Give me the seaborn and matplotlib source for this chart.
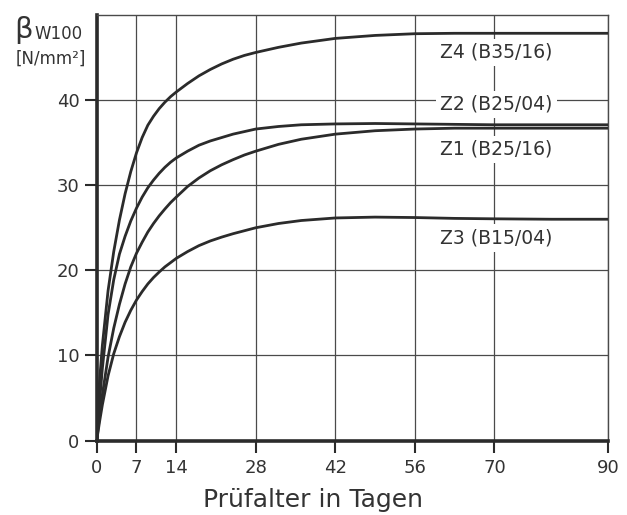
# Strength development of the four concretes Z1-Z4 over test age (reproduction of a scanned chart)

import pandas as pd
import matplotlib.pyplot as plt
import seaborn as sns

# Test age in days and strength values in N/mm2
days = [0, 0.5, 1, 2, 3, 4, 5, 6, 7, 8, 9, 10, 11, 12, 13, 14, 16, 18, 20, 22, 24, 26, 28,
        32, 36, 42, 49, 56, 63, 70, 80, 90]
z4 = [0, 7.0, 11.2, 17.6, 22.2, 25.9, 29.0, 31.6, 33.8, 35.6, 37.05, 38.1, 39.0, 39.75, 40.4, 40.95,
      41.95, 42.85, 43.6, 44.25, 44.8, 45.25, 45.6, 46.2, 46.7, 47.25, 47.6, 47.8, 47.85, 47.85, 47.85, 47.85]
z2 = [0, 4.5, 8.5, 14.8, 18.9, 21.9, 24.0, 25.8, 27.3, 28.6, 29.7, 30.6, 31.4, 32.1, 32.7, 33.2,
      34.0, 34.7, 35.2, 35.6, 36.0, 36.3, 36.6, 36.9, 37.1, 37.2, 37.25, 37.2, 37.15, 37.1, 37.1, 37.1]
z1 = [0, 2.8, 5.4, 9.8, 13.2, 16.0, 18.4, 20.4, 22.0, 23.3, 24.5, 25.5, 26.4, 27.2, 27.95, 28.6,
      29.85, 30.85, 31.7, 32.4, 33.0, 33.55, 34.0, 34.8, 35.4, 36.0, 36.4, 36.6, 36.7, 36.7, 36.7, 36.7]
z3 = [0, 2.2, 4.2, 7.6, 10.2, 12.2, 13.9, 15.3, 16.5, 17.5, 18.4, 19.15, 19.8, 20.4, 20.9, 21.4,
      22.2, 22.9, 23.45, 23.9, 24.3, 24.65, 25.0, 25.5, 25.85, 26.15, 26.25, 26.2, 26.1, 26.05, 26.0, 26.0]

series_names = ["Z4 (B35/16)", "Z2 (B25/04)", "Z1 (B25/16)", "Z3 (B15/04)"]
label_y = [45.6, 39.5, 34.2, 23.8]   # where the curve names sit
label_x = 60.5

x_ticks = [0, 7, 14, 28, 42, 56, 70, 90]
y_ticks = [0, 10, 20, 30, 40]

# long-form table for seaborn
df = pd.concat([pd.DataFrame({"age": days, "strength": vals, "mix": name})
                for name, vals in zip(series_names, [z4, z2, z1, z3])], ignore_index=True)

sns.set_style("white")
plt.rcParams['font.family'] = ['DejaVu Sans']

line_color = "#2b2b2b"
grid_color = "#4a4a4a"
text_color = "#333333"

fig = plt.figure(figsize=(6.27, 5.15), dpi=100)
ax = fig.add_axes([96.7 / 627, 1 - 440.5 / 515, (608 - 96.7) / 627, (440.5 - 15) / 515])

sns.lineplot(data=df, x="age", y="strength", hue="mix", palette=[line_color] * 4,
             estimator=None, sort=False, linewidth=2.0, legend=False, ax=ax, zorder=3)

ax.set_xlim(0, 90)
ax.set_ylim(0, 50)
ax.set_xticks(x_ticks)
ax.set_yticks(y_ticks)
ax.grid(True, color=grid_color, linewidth=0.9)
ax.set_axisbelow(True)

for side in ["left", "bottom"]:
    ax.spines[side].set_linewidth(2.6)
    ax.spines[side].set_color(line_color)
for side in ["top", "right"]:
    ax.spines[side].set_linewidth(1.0)
    ax.spines[side].set_color(grid_color)

ax.tick_params(axis="both", direction="out", length=8.5, width=1.5, color=line_color,
               bottom=True, left=True, labelsize=13, labelcolor=text_color)
ax.tick_params(axis="x", pad=5)
ax.tick_params(axis="y", pad=4)
ax.set_xlabel("Prüfalter in Tagen", fontsize=18, color=text_color)
ax.xaxis.set_label_coords(0.423, -0.112)
ax.set_ylabel("")

# curve names with white boxes covering the grid
for name, yy in zip(series_names, label_y):
    ax.text(label_x, yy, name, fontsize=13.5, color=text_color, va="center", ha="left", zorder=4,
            bbox=dict(facecolor="white", edgecolor="none", pad=3))

# y axis quantity in the upper left corner
fig.text(24 / 627, 1 - 30 / 515, "β", fontsize=21, color=text_color, ha="center", va="center")
fig.text(59 / 627, 1 - 34 / 515, "W100", fontsize=12, color=text_color, ha="center", va="center")
fig.text(51 / 627, 1 - 59 / 515, "[N/mm²]", fontsize=12, color=text_color, ha="center", va="center")

plt.savefig("out.png", dpi=100)
plt.close()
